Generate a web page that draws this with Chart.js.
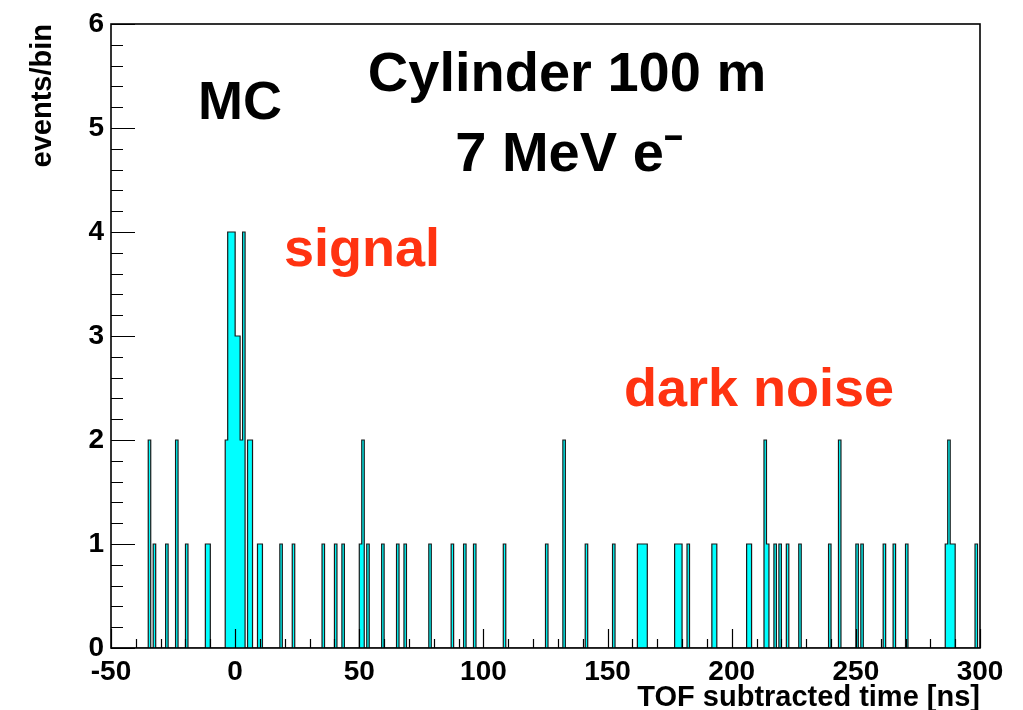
<!DOCTYPE html>
<html>
<head>
<meta charset="utf-8">
<script src="https://cdn.jsdelivr.net/npm/chart.js@4.4.1/dist/chart.umd.min.js"></script>
<style>
  html, body { margin: 0; padding: 0; background: #fff; }
</style>
</head>
<body>
<canvas id="tof" width="1023" height="710"></canvas>
<script>
// 1 ns bins from -50 to 300 ns
const binStart = -50;
const binEnd = 300;
const binWidth = 1;

// non-empty bins: lower edge [ns] and events in that bin
const hitBins = [
  -35, -33, -28, -24, -20, -12, -11,
  -4, -3, -2, -1, 0, 1, 2, 3, 5, 6, 9, 10,
  18, 23, 35, 40, 43, 50, 51, 53, 59, 65, 68, 78,
  87, 92, 96, 108, 125, 132, 141, 152,
  162, 163, 164, 165, 177, 178, 179, 182, 192, 193,
  206, 207, 213, 214, 217, 219, 222, 227, 239, 243,
  250, 252, 261, 265, 270, 286, 287, 288, 289, 298
];
const hitCounts = [
  2, 1, 1, 2, 1, 1, 1,
  2, 4, 4, 4, 3, 3, 2, 4, 2, 2, 1, 1,
  1, 1, 1, 1, 1, 1, 2, 1, 1, 1, 1, 1,
  1, 1, 1, 1, 1, 2, 1, 1,
  1, 1, 1, 1, 1, 1, 1, 1, 1, 1,
  1, 1, 2, 1, 1, 1, 1, 1, 1, 2,
  1, 1, 1, 1, 1, 1, 2, 1, 1, 1
];

const xTickStep = 50;
const yMax = 6;

// fill the full histogram (empty bins are 0)
const nBins = (binEnd - binStart) / binWidth;
const counts = new Array(nBins).fill(0);
hitBins.forEach((b, i) => {
  counts[Math.round((b - binStart) / binWidth)] = hitCounts[i];
});

// bin centres, plus the two outer edges so the outline spans the axis
const points = [{ x: binStart, y: counts[0] }];
counts.forEach((c, i) => points.push({ x: binStart + (i + 0.5) * binWidth, y: c }));
points.push({ x: binEnd, y: counts[nBins - 1] });

const FONT = '"Liberation Sans", Arial, Helvetica, sans-serif';

// ROOT style frame with inward ticks, plus the text labels
const frameTicks = {
  id: 'frameTicks',
  afterDatasetsDraw(chart) {
    const { ctx, chartArea: a, scales: { x, y } } = chart;
    ctx.save();
    ctx.strokeStyle = '#000';
    ctx.lineWidth = 1.2;
    ctx.beginPath();
    for (let k = 0; k <= yMax * 5; k++) {
      const py = Math.round(y.getPixelForValue(k / 5)) + 0.5;
      const len = k % 5 === 0 ? 24 : 12;
      ctx.moveTo(a.left, py);
      ctx.lineTo(a.left + len, py);
    }
    for (let t = binStart; t <= binEnd; t += 10) {
      const px = Math.round(x.getPixelForValue(t)) + 0.5;
      const len = t % xTickStep === 0 ? 19 : 9;
      ctx.moveTo(px, a.bottom);
      ctx.lineTo(px, a.bottom - len);
    }
    ctx.stroke();
    ctx.lineWidth = 1.6;
    ctx.strokeRect(a.left, a.top, a.right - a.left, a.bottom - a.top);
    ctx.restore();
  },
  afterDraw(chart) {
    const ctx = chart.ctx;
    ctx.save();
    ctx.textAlign = 'center';
    ctx.textBaseline = 'alphabetic';
    ctx.fillStyle = '#000';
    ctx.font = 'bold 56px ' + FONT;
    ctx.fillText('Cylinder 100 m', 567, 91);
    ctx.fillText('7 MeV e\u207B', 569, 171);
    ctx.font = 'bold 54px ' + FONT;
    ctx.fillText('MC', 240, 119);
    ctx.fillStyle = '#ff3311';
    ctx.fillText('signal', 362, 266);
    ctx.fillText('dark noise', 759, 406);
    ctx.restore();
  }
};

new Chart(document.getElementById('tof'), {
  type: 'line',
  data: {
    datasets: [{
      data: points,
      stepped: 'middle',
      fill: 'origin',
      backgroundColor: '#00ffff',
      borderColor: '#1a1a1a',
      borderWidth: 1.2,
      pointRadius: 0
    }]
  },
  options: {
    responsive: false,
    animation: false,
    devicePixelRatio: 1,
    layout: { padding: { top: 24, right: 43, left: 0, bottom: 0 } },
    plugins: {
      legend: { display: false },
      tooltip: { enabled: false }
    },
    scales: {
      x: {
        type: 'linear',
        min: binStart,
        max: binEnd,
        grid: { display: false },
        border: { display: false },
        ticks: {
          stepSize: xTickStep,
          padding: -1,
          color: '#000',
          font: { family: FONT, size: 28, weight: 'bold' }
        },
        title: {
          display: true,
          text: 'TOF subtracted time [ns]',
          align: 'end',
          color: '#000',
          padding: { top: 0, bottom: -5 },
          font: { family: FONT, size: 29, weight: 'bold' }
        },
        afterFit: s => { s.height = 62; }
      },
      y: {
        min: 0,
        max: yMax,
        grid: { display: false },
        border: { display: false },
        ticks: {
          stepSize: 1,
          padding: -1,
          color: '#000',
          font: { family: FONT, size: 28, weight: 'bold' }
        },
        title: {
          display: true,
          text: 'events/bin',
          align: 'end',
          color: '#000',
          padding: { top: 26, bottom: 0 },
          font: { family: FONT, size: 29, weight: 'bold' }
        },
        afterFit: s => { s.width = 111; }
      }
    }
  },
  plugins: [frameTicks]
});
</script>
</body>
</html>
